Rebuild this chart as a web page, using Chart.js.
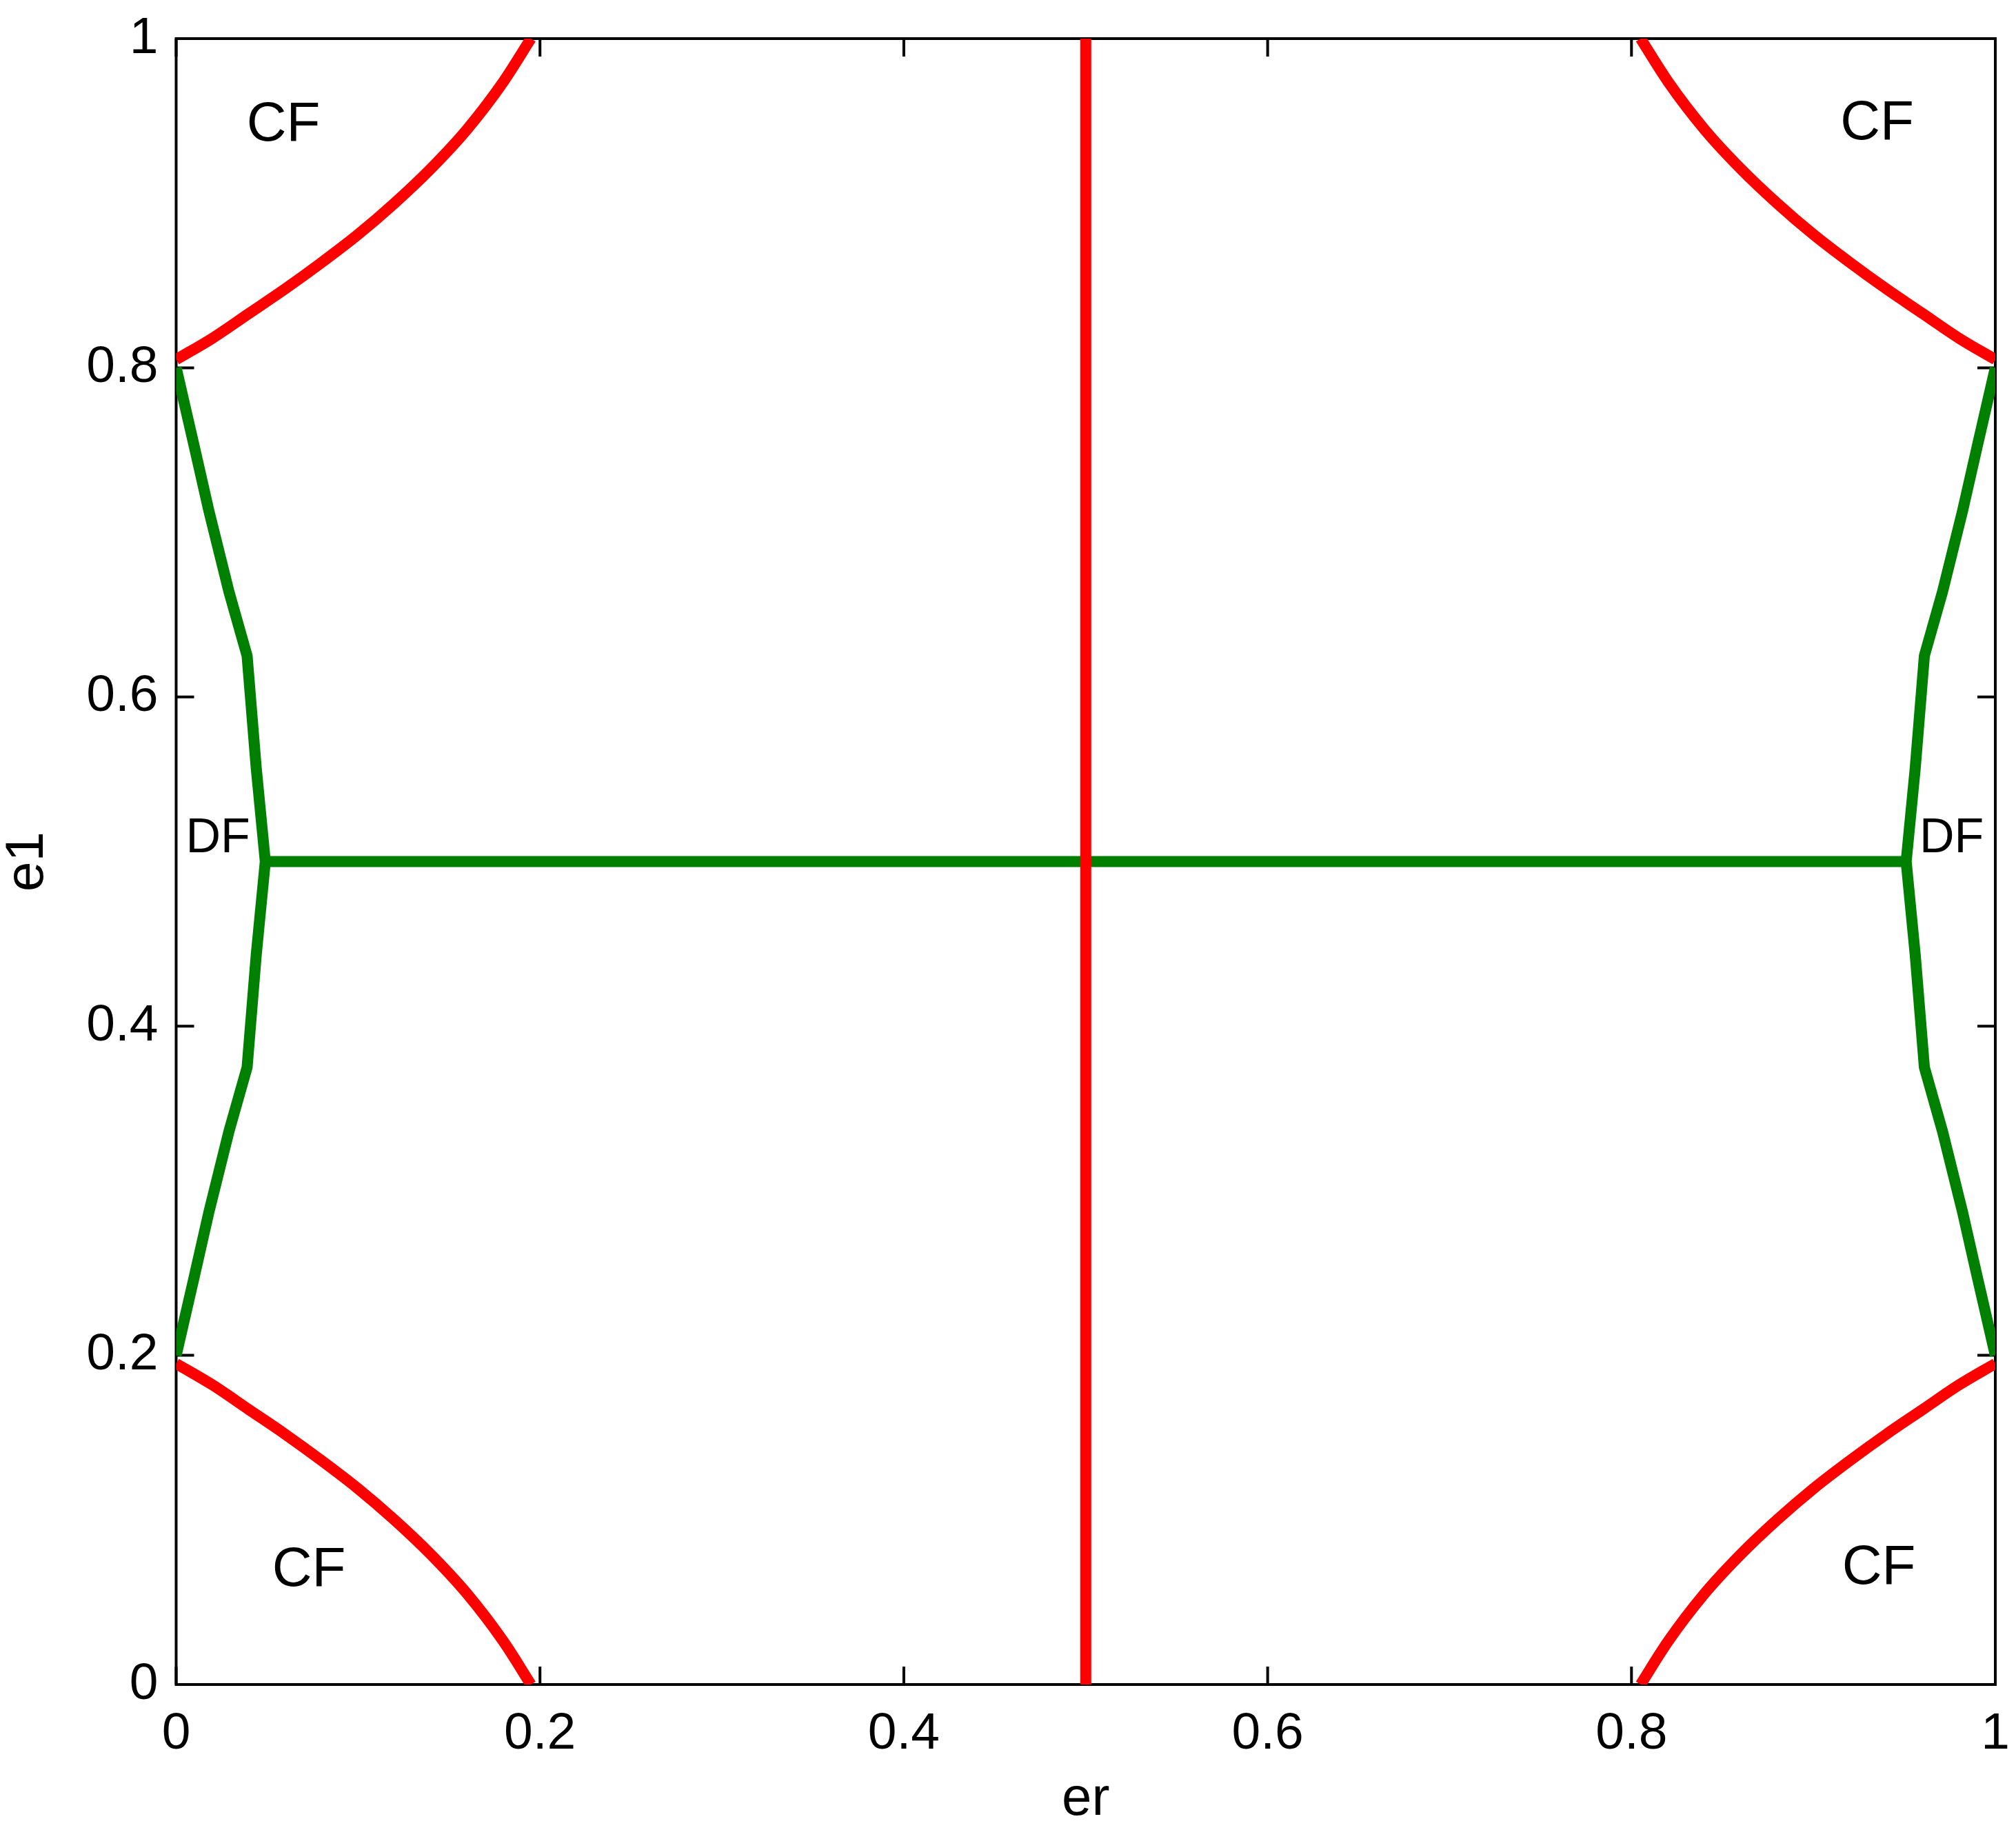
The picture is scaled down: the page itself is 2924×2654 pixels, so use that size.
<!DOCTYPE html>
<html>
<head>
<meta charset="utf-8">
<title>er / e1</title>
<script src="https://cdn.jsdelivr.net/npm/chart.js@4.4.1/dist/chart.umd.min.js"></script>
<style>
  html, body { margin: 0; padding: 0; background: #ffffff; overflow: hidden; }
  #phaseChart { display: block; }
</style>
</head>
<body>
<canvas id="phaseChart" width="2924" height="2654"></canvas>
<script>
// Ticks (same on both axes)
const tickValues = [0, 0.2, 0.4, 0.6, 0.8, 1];
const tickLabels = ['0', '0.2', '0.4', '0.6', '0.8', '1'];

// Red CF boundaries, one per corner
const cfTopLeftX = [0, 0.02, 0.04, 0.06, 0.08, 0.10, 0.12, 0.14, 0.16, 0.18, 0.195];
const cfTopLeftY = [0.805, 0.818, 0.833, 0.848, 0.864, 0.881, 0.900, 0.921, 0.945, 0.974, 1];
const cfTopRightX = [0.805, 0.82, 0.84, 0.86, 0.88, 0.90, 0.92, 0.94, 0.96, 0.98, 1];
const cfTopRightY = [1, 0.974, 0.945, 0.921, 0.900, 0.881, 0.864, 0.848, 0.833, 0.818, 0.805];
const cfBottomLeftX = [0, 0.02, 0.04, 0.06, 0.08, 0.10, 0.12, 0.14, 0.16, 0.18, 0.195];
const cfBottomLeftY = [0.195, 0.182, 0.167, 0.152, 0.136, 0.119, 0.100, 0.079, 0.055, 0.026, 0];
const cfBottomRightX = [0.805, 0.82, 0.84, 0.86, 0.88, 0.90, 0.92, 0.94, 0.96, 0.98, 1];
const cfBottomRightY = [0, 0.026, 0.055, 0.079, 0.100, 0.119, 0.136, 0.152, 0.167, 0.182, 0.195];

// Red split at er = 0.5
const splitX = [0.5, 0.5];
const splitY = [0, 1];

// Green DF boundaries
const dfLeftX = [0, 0.010, 0.018, 0.029, 0.039, 0.044, 0.049, 0.044, 0.039, 0.029, 0.018, 0.010, 0];
const dfLeftY = [0.8, 0.752, 0.713, 0.664, 0.625, 0.557, 0.5, 0.443, 0.375, 0.336, 0.287, 0.248, 0.2];
const dfRightX = [1, 0.990, 0.982, 0.971, 0.961, 0.956, 0.951, 0.956, 0.961, 0.971, 0.982, 0.990, 1];
const dfRightY = [0.8, 0.752, 0.713, 0.664, 0.625, 0.557, 0.5, 0.443, 0.375, 0.336, 0.287, 0.248, 0.2];
const dfMidX = [0.049, 0.951];
const dfMidY = [0.5, 0.5];

// Region labels (centre of the text)
const regionNames = ['CF', 'CF', 'CF', 'CF', 'DF', 'DF'];
const regionX = [0.059, 0.935, 0.073, 0.936, 0.023, 0.976];
const regionY = [0.950, 0.951, 0.072, 0.073, 0.516, 0.516];

const FONT = "'Liberation Sans', Arial, Helvetica, sans-serif";
const RED = '#ff0000';
const GREEN = '#008000';
const TICK_LEN = 26;

function toPoints(xs, ys) {
    return xs.map((v, i) => ({ x: v, y: ys[i] }));
}

function redLine(xs, ys, smooth) {
    return {
        data: toPoints(xs, ys),
        borderColor: RED,
        borderWidth: 16,
        cubicInterpolationMode: smooth ? 'monotone' : 'default',
        borderJoinStyle: 'round'
    };
}

function greenLine(xs, ys) {
    return {
        data: toPoints(xs, ys),
        borderColor: GREEN,
        borderWidth: 16,
        borderJoinStyle: 'round'
    };
}

// Box + inward ticks on all four sides, under the data (like MATLAB)
const boxPlugin = {
    id: 'boxFrame',
    beforeDatasetsDraw(chart) {
        const { ctx, chartArea: a, scales: { x, y } } = chart;
        ctx.save();
        ctx.strokeStyle = '#000000';
        ctx.lineWidth = 4;
        ctx.strokeRect(a.left, a.top, a.right - a.left, a.bottom - a.top);
        ctx.beginPath();
        tickValues.forEach(v => {
            const px = x.getPixelForValue(v);
            const py = y.getPixelForValue(v);
            ctx.moveTo(px, a.bottom); ctx.lineTo(px, a.bottom - TICK_LEN);
            ctx.moveTo(px, a.top); ctx.lineTo(px, a.top + TICK_LEN);
            ctx.moveTo(a.left, py); ctx.lineTo(a.left + TICK_LEN, py);
            ctx.moveTo(a.right, py); ctx.lineTo(a.right - TICK_LEN, py);
        });
        ctx.stroke();
        ctx.restore();
    }
};

// CF / DF text
const regionPlugin = {
    id: 'regionLabels',
    afterDatasetsDraw(chart) {
        const { ctx, scales: { x, y } } = chart;
        ctx.save();
        ctx.fillStyle = '#000000';
        ctx.textAlign = 'center';
        ctx.textBaseline = 'alphabetic';
        regionNames.forEach((name, i) => {
            const size = name === 'DF' ? 70 : 80;
            ctx.font = size + 'px ' + FONT;
            // centre of the capitals -> baseline
            ctx.fillText(name, x.getPixelForValue(regionX[i]), y.getPixelForValue(regionY[i]) + size * 0.358);
        });
        ctx.restore();
    }
};

const tickFont = { family: FONT, size: 75 };
const titleFont = { family: FONT, size: 78, lineHeight: 1 };

new Chart(document.getElementById('phaseChart'), {
    type: 'scatter',
    data: {
        datasets: [
            redLine(splitX, splitY, false),
            redLine(cfTopLeftX, cfTopLeftY, true),
            redLine(cfTopRightX, cfTopRightY, true),
            redLine(cfBottomLeftX, cfBottomLeftY, true),
            redLine(cfBottomRightX, cfBottomRightY, true),
            greenLine(dfMidX, dfMidY),
            greenLine(dfLeftX, dfLeftY),
            greenLine(dfRightX, dfRightY)
        ]
    },
    options: {
        responsive: false,
        devicePixelRatio: 1,
        animation: false,
        showLine: true,
        elements: {
            point: { radius: 0, hoverRadius: 0 },
            line: { tension: 0, borderCapStyle: 'butt', fill: false }
        },
        layout: { padding: { top: 56, right: 30, bottom: 0, left: 0 } },
        plugins: {
            legend: { display: false },
            tooltip: { enabled: false }
        },
        scales: {
            x: {
                type: 'linear',
                min: 0,
                max: 1,
                afterBuildTicks: s => { s.ticks = tickValues.map(v => ({ value: v })); },
                afterFit: s => { s.height = 211; s.paddingLeft = 0; s.paddingRight = 0; },
                grid: { display: false, drawTicks: false },
                border: { display: false },
                ticks: {
                    padding: 27,
                    color: '#000000',
                    font: tickFont,
                    maxRotation: 0,
                    autoSkip: false,
                    callback: (v, i) => tickLabels[i]
                },
                title: { display: true, text: 'er', color: '#000000', font: titleFont, padding: { top: 0, bottom: 5 } }
            },
            y: {
                type: 'linear',
                min: 0,
                max: 1,
                afterBuildTicks: s => { s.ticks = tickValues.map(v => ({ value: v })); },
                afterFit: s => { s.width = 255.5; s.paddingTop = 0; s.paddingBottom = 0; },
                grid: { display: false, drawTicks: false },
                border: { display: false },
                ticks: {
                    padding: 26,
                    color: '#000000',
                    font: tickFont,
                    autoSkip: false,
                    callback: (v, i) => tickLabels[i]
                },
                title: { display: true, text: 'e1', color: '#000000', font: titleFont, padding: { top: 1, bottom: 0 } }
            }
        }
    },
    plugins: [boxPlugin, regionPlugin]
});
</script>
</body>
</html>
